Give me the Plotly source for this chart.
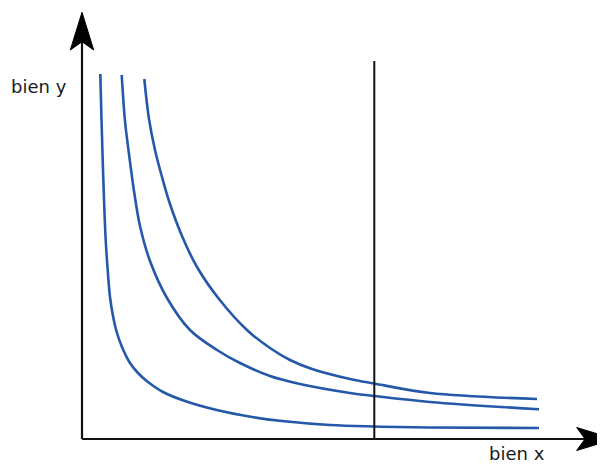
import plotly.graph_objects as go

# Indifference curves (quantities of bien x / bien y, arbitrary units)
curve1_x = [18.3, 19.5, 20.7, 22, 23.7, 26, 28, 31, 34.7, 40, 48, 56, 64.7, 81, 103, 134.7, 170, 200, 248, 292, 348, 457]
curve1_y = [365, 320, 279, 240, 199, 165, 142, 123, 107, 92, 76, 66, 58, 47, 38, 29, 22, 18, 14, 12.5, 11.5, 11]

curve2_x = [39.7, 43, 47, 52, 58, 68, 85, 108, 135, 158, 188, 218, 268, 292, 348, 457]
curve2_y = [364, 318, 285, 248, 213, 178, 141, 109, 89, 76, 63, 55, 46, 43, 37, 29.7]

curve3_x = [62.3, 67, 73, 80, 87.3, 100, 115, 137, 166, 188, 208, 230, 268, 292, 348, 455]
curve3_y = [360, 320, 289, 262, 237, 203, 172, 140, 108, 91, 79, 70, 60, 55.5, 46, 40]

budget_x = 292.3   # vertical line
budget_top = 378

axis_x_end = 503
axis_y_end = 397

blue = "#2458a8"

fig = go.Figure()
for cx, cy in [(curve1_x, curve1_y), (curve2_x, curve2_y), (curve3_x, curve3_y)]:
    fig.add_trace(go.Scatter(x=cx, y=cy, mode="lines",
                             line=dict(color=blue, width=2.6, shape="spline", smoothing=1.0),
                             hoverinfo="skip", showlegend=False))

# vertical line
fig.add_trace(go.Scatter(x=[budget_x, budget_x], y=[0, budget_top], mode="lines",
                         line=dict(color="#111111", width=2), hoverinfo="skip", showlegend=False))

shapes = [
    dict(type="line", x0=0, y0=0, x1=axis_x_end, y1=0, xref="x", yref="y",
         line=dict(color="#111111", width=2.2)),
    dict(type="line", x0=0, y0=0, x1=0, y1=axis_y_end, xref="x", yref="y",
         line=dict(color="#111111", width=2.2)),
    # up arrow head
    dict(type="path", xref="x", yref="y",
         path="M 0 426.7 L 11.7 389 L 0 397.3 L -11.7 389 Z",
         fillcolor="#000000", line=dict(color="#000000", width=1)),
    # right arrow head
    dict(type="path", xref="x", yref="y",
         path="M 532.4 0 L 494.7 11.5 L 503 0 L 494.7 -11.5 Z",
         fillcolor="#000000", line=dict(color="#000000", width=1)),
]

fig.update_layout(
    width=597, height=456, autosize=False,
    margin=dict(l=0, r=0, t=0, b=0),
    paper_bgcolor="white", plot_bgcolor="white",
    xaxis=dict(range=[-74, 523], visible=False, fixedrange=True),
    yaxis=dict(range=[-25, 431], visible=False, fixedrange=True),
    shapes=shapes,
    annotations=[
        dict(x=-43, y=353, xref="x", yref="y", text="bien y", showarrow=False,
             font=dict(family="DejaVu Sans", size=18, color="#1a1a1a"),
             xanchor="center", yanchor="middle"),
        dict(x=434.7, y=-14, xref="x", yref="y", text="bien x", showarrow=False,
             font=dict(family="DejaVu Sans", size=18, color="#1a1a1a"),
             xanchor="center", yanchor="middle"),
    ],
)

fig.write_html("out.html")
